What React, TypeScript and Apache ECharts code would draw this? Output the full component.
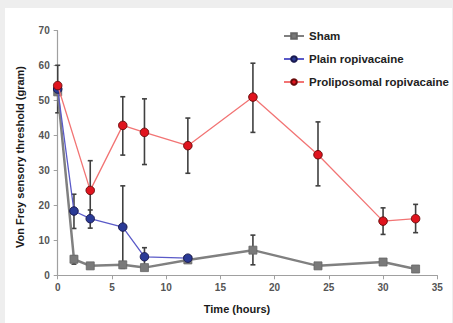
import React, { useEffect, useRef } from "react";
import * as echarts from "echarts";

const shamT = [0, 1.5, 3, 6, 8, 12, 18, 24, 30, 33];
const shamV = [52.5, 4.6, 2.7, 3.0, 2.2, 4.4, 7.2, 2.7, 3.8, 1.8];
const shamLow = [null, 3.2, null, null, null, null, 3.0, null, null, null];
const shamHigh = [null, 5.6, null, null, null, null, 11.5, null, null, null];

const plainT = [0, 1.5, 3, 6, 8, 12];
const plainV = [53.3, 18.4, 16.2, 13.8, 5.3, 4.9];
const plainLow = [null, 13.4, 13.5, 2.0, 2.7, 4.2];
const plainHigh = [null, 23.2, 18.7, 25.6, 7.9, 5.6];

const proT = [0, 3, 6, 8, 12, 18, 24, 30, 33];
const proV = [54.3, 24.3, 42.9, 40.9, 37.1, 51.0, 34.5, 15.5, 16.2];
const proLow = [46.5, 16.0, 34.4, 31.7, 29.2, 40.9, 25.6, 11.7, 12.2];
const proHigh = [60.1, 32.8, 51.1, 50.5, 45.0, 60.7, 43.9, 19.3, 20.3];

const xTicks = [0, 5, 10, 15, 20, 25, 30, 35];

function errData(t: number[], lo: (number | null)[], hi: (number | null)[]) {
  const out: number[][] = [];
  t.forEach((x, i) => {
    if (lo[i] != null && hi[i] != null) out.push([x, lo[i] as number, hi[i] as number]);
  });
  return out;
}

const renderErr = (params: any, api: any) => {
  const x = api.value(0);
  const p1 = api.coord([x, api.value(1)]);
  const p2 = api.coord([x, api.value(2)]);
  const hw = 2.5;
  const style = { stroke: "#404040", lineWidth: 1.6 };
  return {
    type: "group",
    children: [
      { type: "line", shape: { x1: p1[0], y1: p1[1], x2: p2[0], y2: p2[1] }, style },
      { type: "line", shape: { x1: p1[0] - hw, y1: p1[1], x2: p1[0] + hw, y2: p1[1] }, style },
      { type: "line", shape: { x1: p2[0] - hw, y1: p2[1], x2: p2[0] + hw, y2: p2[1] }, style },
    ],
  };
};

export default function App() {
  const ref = useRef<HTMLDivElement>(null);
  useEffect(() => {
    document.body.style.margin = "0";
    const chart = echarts.init(ref.current!, null, { renderer: "svg" });
    const font = "Liberation Sans, Arial, sans-serif";
    chart.setOption({
      animation: false,
      backgroundColor: "#eeeeee",
      textStyle: { fontFamily: font },
      graphic: [
        { type: "rect", z: -10, shape: { x: 5, y: 8, width: 447, height: 315 }, style: { fill: "#ffffff" } },
        {
          type: "text",
          x: 237,
          y: 309,
          style: { text: "Time (hours)", font: "bold 11px " + font, fill: "#1a1a1a", align: "center", verticalAlign: "middle" },
        },
        {
          type: "text",
          x: 20,
          y: 157,
          rotation: Math.PI / 2,
          style: {
            text: "Von Frey sensory threshold (gram)",
            font: "bold 11px " + font,
            fill: "#1a1a1a",
            align: "center",
            verticalAlign: "middle",
          },
        },
      ],
      grid: { left: 57.7, right: 15.7, top: 30.7, bottom: 47.7 },
      legend: {
        orient: "vertical",
        left: 278,
        top: 25,
        itemWidth: 20,
        itemHeight: 7,
        itemGap: 11,
        data: ["Sham", "Plain ropivacaine", "Proliposomal ropivacaine"],
        textStyle: { fontFamily: font, fontWeight: "bold", fontSize: 11.5, color: "#222" },
      },
      xAxis: {
        type: "value",
        min: 0,
        max: 35,
        interval: 5,
        splitLine: { show: false },
        axisLine: { lineStyle: { color: "#a0a0a0", width: 1.2 } },
        axisTick: { show: true, length: 4, lineStyle: { color: "#a0a0a0" } },
        axisLabel: { color: "#555", fontSize: 10, fontWeight: "bold", margin: 7, customValues: xTicks } as any,
      },
      yAxis: {
        type: "value",
        min: 0,
        max: 70,
        interval: 10,
        splitLine: { show: false },
        axisLine: { show: true, lineStyle: { color: "#a0a0a0", width: 1.2 } },
        axisTick: { show: true, length: 4, lineStyle: { color: "#a0a0a0" } },
        axisLabel: { color: "#555", fontSize: 10, fontWeight: "bold", margin: 8 },
      },
      series: [
        {
          name: "Sham",
          type: "line",
          z: 3,
          data: shamT.map((t, i) => [t, shamV[i]]),
          symbol: "rect",
          symbolSize: 8,
          lineStyle: { color: "#808080", width: 2.5 },
          itemStyle: { color: "#7a7a7a", borderColor: "#666", borderWidth: 0.8 },
        },
        {
          name: "Plain ropivacaine",
          type: "line",
          z: 4,
          data: plainT.map((t, i) => [t, plainV[i]]),
          symbol: "circle",
          symbolSize: 8.5,
          lineStyle: { color: "#5a5ac8", width: 1.3 },
          itemStyle: { color: "#2a3a96", borderColor: "#1a1a50", borderWidth: 1 },
        },
        {
          name: "Proliposomal ropivacaine",
          type: "line",
          z: 5,
          data: proT.map((t, i) => [t, proV[i]]),
          symbol: "circle",
          symbolSize: 8.5,
          lineStyle: { color: "#f27474", width: 1.3 },
          itemStyle: { color: "#e0141e", borderColor: "#6a0a0a", borderWidth: 1 },
        },
        { type: "custom", z: 2, renderItem: renderErr, data: errData(shamT, shamLow, shamHigh), encode: { x: 0, y: [1, 2] } },
        { type: "custom", z: 2, renderItem: renderErr, data: errData(plainT, plainLow, plainHigh), encode: { x: 0, y: [1, 2] } },
        { type: "custom", z: 2, renderItem: renderErr, data: errData(proT, proLow, proHigh), encode: { x: 0, y: [1, 2] } },
      ],
    });
    return () => chart.dispose();
  }, []);
  return <div ref={ref} style={{ width: 453, height: 323 }} />;
}
